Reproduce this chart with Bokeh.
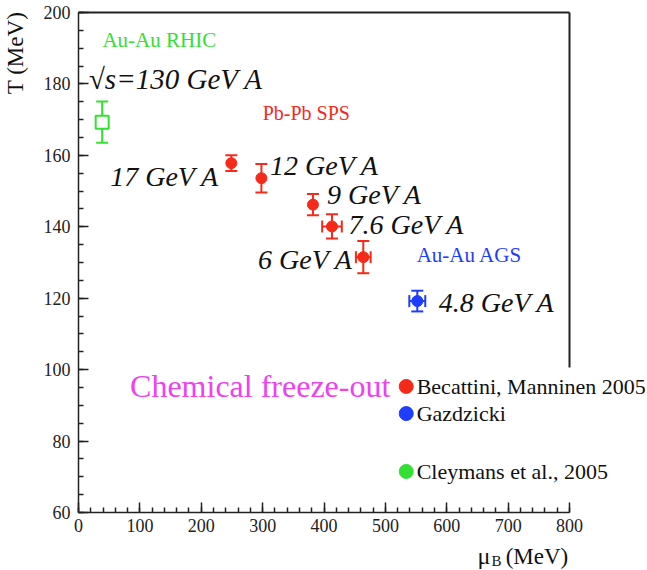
from bokeh.plotting import figure
from bokeh.models import ColumnDataSource, Whisker, TeeHead, Label, FixedTicker, Range1d
from bokeh.embed import file_html
from bokeh.resources import INLINE
import math

# ---------------- data ----------------
sps_labels = ["17 GeV A", "12 GeV A", "9 GeV A", "7.6 GeV A", "6 GeV A"]
sps_mu = [249, 298, 382, 413, 464]
sps_T = [157.8, 153.6, 146.2, 140.1, 131.5]
sps_dT = [2.2, 4.0, 3.0, 3.4, 4.5]
sps_dmu = [0, 0, 0, 16, 12]

ags_labels = ["4.8 GeV A"]
ags_mu = [552]
ags_T = [119.2]
ags_dT = [2.9]
ags_dmu = [13]

rhic_labels = ["\u221as=130 GeV A"]
rhic_mu = [38.6]
rhic_T = [169.3]
rhic_dT = [5.8]

legend_names = ["Becattini, Manninen 2005", "Gazdzicki", "Cleymans et al., 2005"]
legend_T = [95.3, 87.7, 71.5]

x_ticks = [0, 100, 200, 300, 400, 500, 600, 700, 800]
y_ticks = [60, 80, 100, 120, 140, 160, 180, 200]

RED = "#f52a1a"
BLUE = "#1f3dff"
GREEN = "#33e033"
MAGENTA = "#f040f0"
FONT = "'Liberation Serif', 'Times New Roman', serif"
AXFONT = "Times"

XMIN, XMAX, YMIN, YMAX = 0, 800, 60, 200

# the frame fills the canvas; axes are fixed at the data edges
W, H = 645, 570
LEFT, TOP = 78, 12            # canvas px of (0, 200)
SX, SY = 491.0 / 800, 500.0 / 140
x_lo = XMIN - LEFT / SX
x_hi = XMIN + (W - LEFT) / SX
y_hi = YMAX + TOP / SY
y_lo = YMAX - (H - TOP) / SY

p = figure(width=W, height=H, output_backend="svg", toolbar_location=None,
           x_range=Range1d(x_lo, x_hi), y_range=Range1d(y_lo, y_hi),
           min_border=0, background_fill_color="white", border_fill_color="white")
p.outline_line_color = None
p.grid.visible = False

for ax in (p.xaxis[0], p.yaxis[0]):
    ax.axis_line_width = 1.5
    ax.axis_line_color = "#222222"
    ax.major_tick_in = 10
    ax.major_tick_out = 0
    ax.minor_tick_in = 5
    ax.minor_tick_out = 0
    ax.major_tick_line_width = 1.5
    ax.minor_tick_line_width = 1.5
    ax.major_tick_line_color = "#222222"
    ax.minor_tick_line_color = "#222222"
    ax.major_label_text_font = AXFONT
    ax.major_label_text_font_size = "18px"
    ax.major_label_text_color = "#222222"

p.xaxis[0].ticker = FixedTicker(ticks=x_ticks, minor_ticks=list(range(0, 801, 20)))
p.yaxis[0].ticker = FixedTicker(ticks=y_ticks, minor_ticks=list(range(60, 201, 5)))
p.xaxis[0].bounds = (XMIN, XMAX)
p.yaxis[0].bounds = (YMIN, YMAX)
p.xaxis[0].fixed_location = YMIN
p.yaxis[0].fixed_location = XMIN
p.xaxis[0].major_label_standoff = 6
p.yaxis[0].major_label_standoff = 8

# frame: top line and right line (partially hidden by legend box)
p.segment(x0=[XMIN], y0=[YMAX], x1=[XMAX], y1=[YMAX], line_color="#222222", line_width=2)
p.segment(x0=[XMAX], y0=[YMAX], x1=[XMAX], y1=[100.6], line_color="#222222", line_width=2)

def tee(c):
    return TeeHead(size=12, line_color=c, line_width=2)

# ---------------- SPS (red) ----------------
sps = ColumnDataSource(dict(x=sps_mu, y=sps_T,
                            lo=[t - d for t, d in zip(sps_T, sps_dT)],
                            hi=[t + d for t, d in zip(sps_T, sps_dT)]))
p.add_layout(Whisker(source=sps, base="x", lower="lo", upper="hi", dimension="height",
                     line_color=RED, line_width=2, upper_head=tee(RED), lower_head=tee(RED)))
hx = [(m, t, d) for m, t, d in zip(sps_mu, sps_T, sps_dmu) if d > 0]
sps_h = ColumnDataSource(dict(y=[h[1] for h in hx], lo=[h[0] - h[2] for h in hx],
                              hi=[h[0] + h[2] for h in hx]))
p.add_layout(Whisker(source=sps_h, base="y", lower="lo", upper="hi", dimension="width",
                     line_color=RED, line_width=2, upper_head=tee(RED), lower_head=tee(RED)))
p.scatter(x="x", y="y", source=sps, size=11, color=RED)

# ---------------- AGS (blue) ----------------
ags = ColumnDataSource(dict(x=ags_mu, y=ags_T,
                            lo=[t - d for t, d in zip(ags_T, ags_dT)],
                            hi=[t + d for t, d in zip(ags_T, ags_dT)],
                            xlo=[m - d for m, d in zip(ags_mu, ags_dmu)],
                            xhi=[m + d for m, d in zip(ags_mu, ags_dmu)]))
p.add_layout(Whisker(source=ags, base="x", lower="lo", upper="hi", dimension="height",
                     line_color=BLUE, line_width=2, upper_head=tee(BLUE), lower_head=tee(BLUE)))
p.add_layout(Whisker(source=ags, base="y", lower="xlo", upper="xhi", dimension="width",
                     line_color=BLUE, line_width=2, upper_head=tee(BLUE), lower_head=tee(BLUE)))
p.scatter(x="x", y="y", source=ags, size=11, color=BLUE)

# ---------------- RHIC (green) ----------------
rhic = ColumnDataSource(dict(x=rhic_mu, y=rhic_T,
                             lo=[t - d for t, d in zip(rhic_T, rhic_dT)],
                             hi=[t + d for t, d in zip(rhic_T, rhic_dT)]))
p.add_layout(Whisker(source=rhic, base="x", lower="lo", upper="hi", dimension="height",
                     line_color=GREEN, line_width=2, upper_head=tee(GREEN), lower_head=tee(GREEN)))
p.scatter(x="x", y="y", source=rhic, marker="square", size=13, line_color=GREEN,
          line_width=2, fill_color="white")

# ---------------- labels ----------------
def lab(text, x, y, size, color="#111111", align="left", style="italic", angle=0.0, baseline="middle"):
    p.add_layout(Label(x=x, y=y, text=text, text_font=FONT, text_font_size=size,
                       text_font_style=style, text_color=color, text_align=align,
                       text_baseline=baseline, angle=angle))

ITAL = "28px"
lab(rhic_labels[0], 17, 181.5, "29px")
lab(sps_labels[0], 229, 154.0, ITAL, align="right")
lab(sps_labels[1], 312, 157.3, ITAL)
lab(sps_labels[2], 405, 149.0, ITAL)
lab(sps_labels[3], 440, 140.6, ITAL)
lab(sps_labels[4], 447, 130.8, ITAL, align="right")
lab(ags_labels[0], 587, 118.8, ITAL)

lab("Au-Au RHIC", 39, 192.2, "21px", color=GREEN, style="normal")
lab("Pb-Pb SPS", 300, 172.0, "20px", color=RED, style="normal")
lab("Au-Au AGS", 551, 132.0, "21px", color=BLUE, style="normal")
lab("Chemical freeze-out", 84, 95.3, "32px", color=MAGENTA, style="normal")

# ---------------- legend ----------------
leg_colors = [RED, BLUE, GREEN]
leg = ColumnDataSource(dict(x=[534] * 3, y=legend_T, c=leg_colors))
p.scatter(x="x", y="y", source=leg, size=14, color="c")
for name, t in zip(legend_names, legend_T):
    lab(name, 551, t, "22px", style="normal")

# ---------------- axis titles ----------------
lab("T (MeV)", -103, 200.2, "23px", style="normal", align="right", angle=math.pi / 2)
lab("\u03bc", 650, 47.8, "24px", style="normal", baseline="alphabetic")
lab("B", 673, 46.4, "15px", style="normal", baseline="alphabetic")
lab("(MeV)", 798, 47.8, "23px", style="normal", align="right", baseline="alphabetic")

open("out.html", "w").write(file_html(p, INLINE))
